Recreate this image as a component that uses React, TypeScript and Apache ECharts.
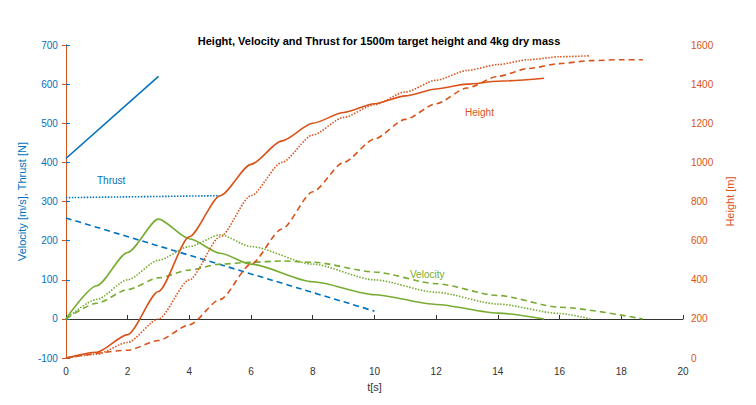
import { useRef, useEffect } from "react"
import * as echarts from "echarts"

const BLUE = "#0072BD"
const ORANGE = "#D95319"
const GREEN = "#77AC30"

const thrustSolid = [[0, 410], [3, 620]]
const thrustDotted = [[0, 310], [5, 315]]
const thrustDashed = [[0, 258], [10, 20]]

const velSolid = [[0, 0], [1, 85], [2, 170], [3, 255], [4, 205], [5, 168], [6, 140], [8, 95], [10, 62], [12, 37], [14, 15], [15.5, 0]]
const velDotted = [[0, 0], [1, 50], [2, 100], [3, 150], [4, 185], [5, 215], [6, 185], [8, 140], [10, 100], [12, 68], [14, 38], [16, 14], [17, 0]]
const velDashed = [[0, 0], [1, 40], [2, 75], [3, 105], [4, 125], [5, 140], [6, 145], [7, 148], [8, 145], [10, 120], [12, 90], [14, 60], [16, 30], [18.7, 0]]

const hSolid = [[0, 0], [1, 30], [2, 120], [3, 340], [4, 620], [5, 830], [6, 990], [7, 1110], [8, 1200], [9, 1255], [10, 1300], [11, 1340], [12, 1375], [13, 1400], [14, 1415], [15.5, 1430]]
const hDotted = [[0, 0], [1, 20], [2, 80], [3, 200], [4, 400], [5, 620], [6, 830], [7, 1000], [8, 1140], [9, 1230], [10, 1295], [11, 1360], [12, 1420], [13, 1470], [14, 1500], [15, 1525], [16, 1540], [17, 1545]]
const hDashed = [[0, 0], [2, 40], [3, 90], [4, 170], [5, 300], [6, 480], [7, 660], [8, 850], [9, 1000], [10, 1120], [11, 1220], [12, 1300], [13, 1380], [14, 1440], [15, 1480], [16, 1505], [17, 1520], [18, 1525], [18.7, 1525]]

function line(data: number[][], color: string, type: string, yAxisIndex = 0) {
  return {
    type: "line",
    data,
    yAxisIndex,
    smooth: 0.25,
    smoothMonotone: "x",
    showSymbol: false,
    lineStyle: { color, width: 1.6, type: type === "dotted" ? [1.5, 1.5] : type === "dashed" ? [6, 4] : "solid" },
  }
}

export default function App() {
  const chartRef = useRef<HTMLDivElement>(null)

  useEffect(() => {
    if (!chartRef.current) return
    const instance = echarts.init(chartRef.current, undefined, { renderer: "svg" })
    const axisCommon = {
      axisTick: { show: true, inside: true, length: 4 },
      splitLine: { show: false },
      nameTextStyle: { fontSize: 11 },
    }
    instance.setOption({
      animation: false,
      textStyle: { fontFamily: "Arial, Liberation Sans, sans-serif" },
      title: {
        text: "Height, Velocity and Thrust for 1500m target height and 4kg dry mass",
        left: 366,
        top: 22,
        textAlign: "center",
        textStyle: { fontSize: 11, fontWeight: "bold", color: "#000" },
      },
      grid: { left: 57, right: 65, top: 37, bottom: 35 },
      xAxis: {
        ...axisCommon,
        type: "value",
        min: 0,
        max: 20,
        interval: 2,
        name: "t[s]",
        nameLocation: "middle",
        nameGap: 18,
        axisLine: { lineStyle: { color: "#333" } },
        axisLabel: { fontSize: 10, color: "#333" },
      },
      yAxis: [
        {
          ...axisCommon,
          type: "value",
          min: -100,
          max: 700,
          interval: 100,
          name: "Velocity [m/s], Thrust [N]",
          nameLocation: "middle",
          nameGap: 36,
          nameTextStyle: { color: BLUE, fontSize: 11 },
          axisLine: { show: true, onZero: false, lineStyle: { color: BLUE } },
          axisLabel: { fontSize: 10, color: BLUE },
        },
        {
          ...axisCommon,
          type: "value",
          min: 0,
          max: 1600,
          interval: 200,
          name: "Height [m]",
          nameLocation: "middle",
          nameGap: 36,
          nameRotate: 90,
          nameTextStyle: { color: ORANGE, fontSize: 11 },
          axisLine: { show: true, lineStyle: { color: ORANGE } },
          axisLabel: { fontSize: 10, color: ORANGE, formatter: (v: number) => String(v) },
        },
      ],
      series: [
        line(thrustSolid, BLUE, "solid"),
        line(thrustDotted, BLUE, "dotted"),
        line(thrustDashed, BLUE, "dashed"),
        line(velSolid, GREEN, "solid"),
        line(velDotted, GREEN, "dotted"),
        line(velDashed, GREEN, "dashed"),
        line(hSolid, ORANGE, "solid", 1),
        line(hDotted, ORANGE, "dotted", 1),
        line(hDashed, ORANGE, "dashed", 1),
      ],
      graphic: [
        { type: "text", left: 89, top: 167, style: { text: "Thrust", fill: BLUE, fontSize: 10 } },
        { type: "text", left: 402, top: 261, style: { text: "Velocity", fill: GREEN, fontSize: 10 } },
        { type: "text", left: 457, top: 99, style: { text: "Height", fill: ORANGE, fontSize: 10 } },
      ],
    })
    return () => instance.dispose()
  }, [])

  return <div ref={chartRef} style={{ width: 740, height: 389 }} />
}
